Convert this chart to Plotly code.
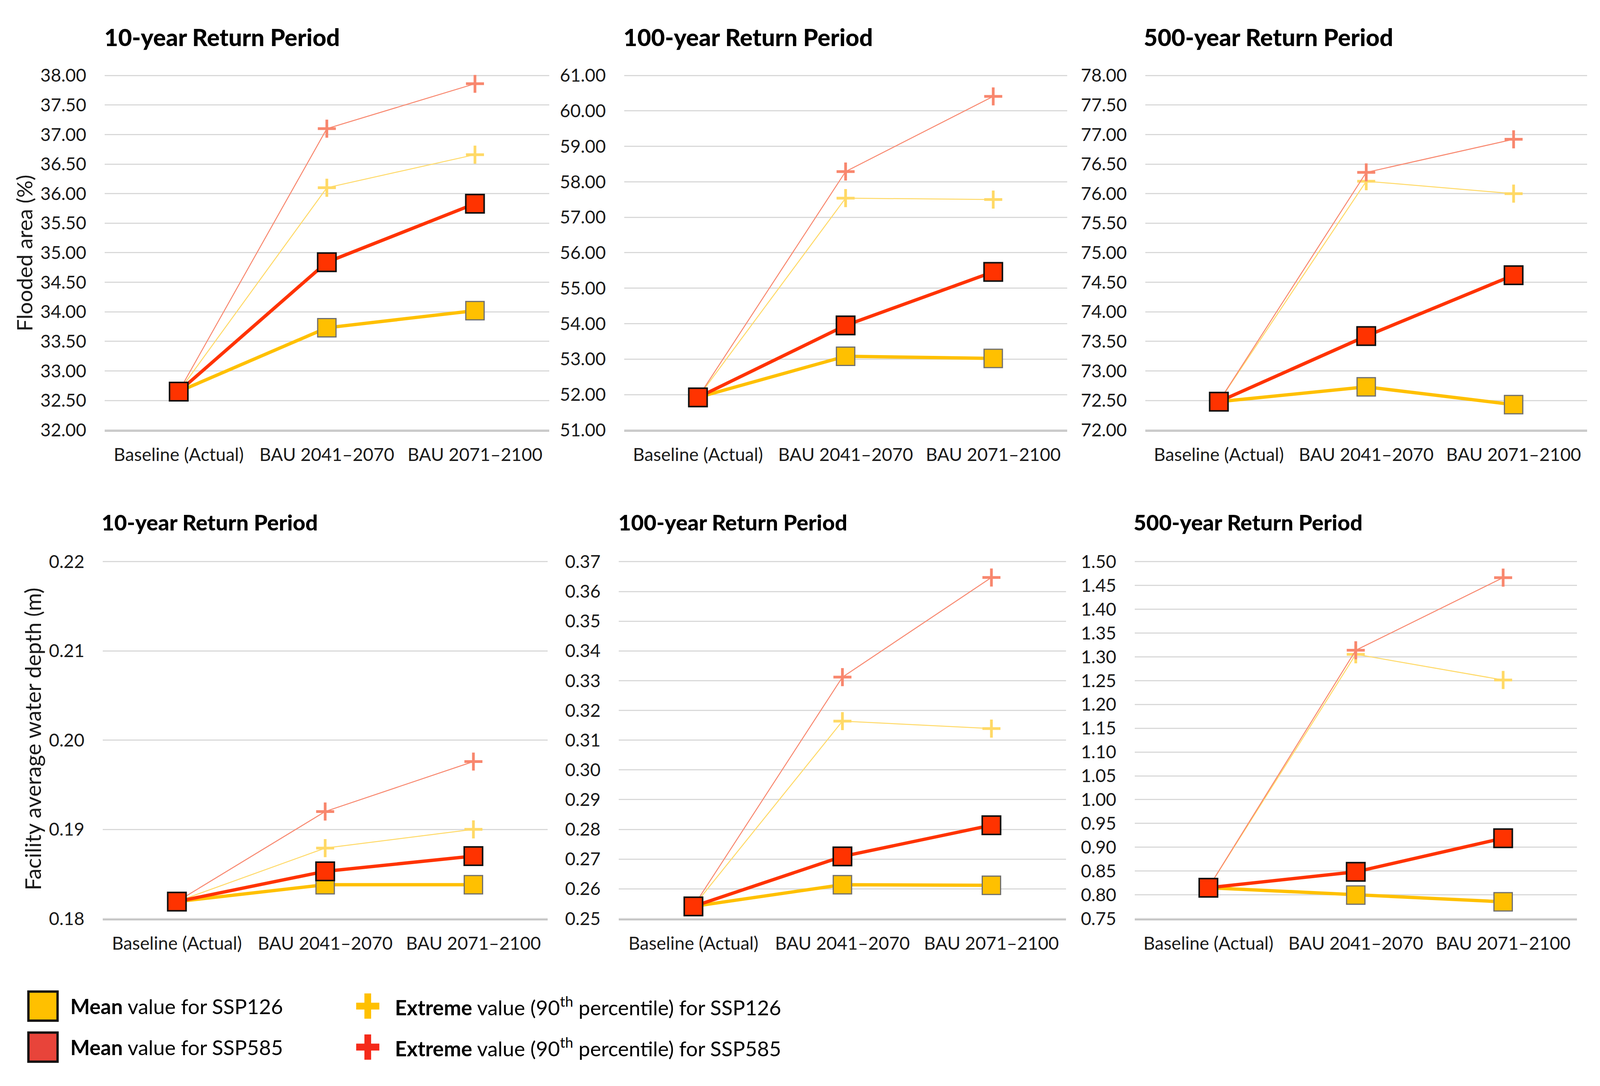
import plotly.graph_objects as go

W, H = 4281, 2780

categories = ["Baseline (Actual)", "BAU 2041–2070", "BAU 2071–2100"]

panel_titles = ["10-year Return Period", "100-year Return Period", "500-year Return Period"]

# Flooded area (%)
area_mean_126 = [[32.65, 33.73, 34.02], [51.92, 53.08, 53.02], [72.48, 72.73, 72.43]]
area_mean_585 = [[32.65, 34.84, 35.83], [51.92, 53.95, 55.46], [72.48, 73.59, 74.62]]
area_ext_126 = [[32.65, 36.10, 36.66], [51.92, 57.54, 57.50], [72.48, 76.21, 76.00]]
area_ext_585 = [[32.65, 37.10, 37.86], [51.92, 58.29, 60.41], [72.48, 76.36, 76.92]]

# Facility average water depth (m)
depth_mean_126 = [[0.1819, 0.1838, 0.1838], [0.2541, 0.2614, 0.2612], [0.8149, 0.7995, 0.7853]]
depth_mean_585 = [[0.1819, 0.1853, 0.1870], [0.2541, 0.2709, 0.2814], [0.8149, 0.8482, 0.9189]]
depth_ext_126 = [[0.1819, 0.1879, 0.1900], [0.2541, 0.3164, 0.3139], [0.8149, 1.3055, 1.2515]]
depth_ext_585 = [[0.1819, 0.1920, 0.1976], [0.2541, 0.3312, 0.3647], [0.8149, 1.3140, 1.4666]]

area_ranges = [[32.0, 38.0, 0.5], [51.0, 61.0, 1.0], [72.0, 78.0, 0.5]]
depth_ranges = [[0.18, 0.22, 0.01], [0.25, 0.37, 0.01], [0.75, 1.50, 0.05]]

area_ylabel = "Flooded area (%)"
depth_ylabel = "Facility average water depth (m)"

legend_labels = [
    "<b>Mean</b> value for SSP126",
    "<b>Mean</b> value for SSP585",
    "<b>Extreme</b> value (90<sup>th</sup> percentile) for SSP126",
    "<b>Extreme</b> value (90<sup>th</sup> percentile) for SSP585",
]

# ---- layout geometry (pixels of a 4281x2780 design canvas) ----
top_x = [(280, 1469), (1670, 2855), (3064, 4247)]
bot_x = [(275, 1465), (1656, 2852), (3036, 4219)]
top_y = (167, 1095)
bot_y = (1436, 2370)
top_title_x = [277, 1666, 3058]
bot_title_x = [270, 1652, 3031]
top_title_y = 68
bot_title_y = 1334

FONT = "Lato"
TXT = "#1a1a1a"
C126 = "#FFC000"
C585 = "#FF3300"
C126E = "#FFD966"
C585E = "#F8876E"
GRID = "#D9D9D9"


def px(x):
    return x / W


def py(y):
    return 1 - y / H


fig = go.Figure()
layout = dict(
    autosize=True, margin=dict(l=0, r=0, t=0, b=0, pad=0),
    paper_bgcolor="white", plot_bgcolor="white", showlegend=False,
    font=dict(family=FONT, color=TXT, size=46),
)
annotations = []
shapes = []

panels = []
for i in range(3):
    panels.append((top_x[i], top_y, area_ranges[i], area_mean_126[i], area_mean_585[i],
                   area_ext_126[i], area_ext_585[i], panel_titles[i], top_title_x[i], top_title_y, 61))
for i in range(3):
    panels.append((bot_x[i], bot_y, depth_ranges[i], depth_mean_126[i], depth_mean_585[i],
                   depth_ext_126[i], depth_ext_585[i], panel_titles[i], bot_title_x[i], bot_title_y, 56))

for k, (xd, yd, rng, m126, m585, e126, e585, title, tx, ty, tsize) in enumerate(panels):
    n = k + 1
    xa = "x" if n == 1 else f"x{n}"
    ya = "y" if n == 1 else f"y{n}"
    xkey = "xaxis" if n == 1 else f"xaxis{n}"
    ykey = "yaxis" if n == 1 else f"yaxis{n}"
    lo, hi, dt = rng
    eps = (hi - lo) * 0.0015
    layout[xkey] = dict(
        domain=[px(xd[0]), px(xd[1])], anchor=ya, type="category",
        categoryorder="array", categoryarray=categories, range=[-0.5, 2.5],
        showgrid=False, showline=True, linecolor="#BFBFBF", linewidth=3,
        ticks="", ticklabelstandoff=20, tickfont=dict(size=46, family=FONT, color=TXT),
        zeroline=False, fixedrange=True,
    )
    layout[ykey] = dict(
        domain=[py(yd[1]), py(yd[0])], anchor=xa, range=[lo - eps, hi + eps],
        tick0=lo, dtick=dt, tickformat=".2f", showgrid=True, gridcolor=GRID, gridwidth=3,
        showline=False, zeroline=False, ticks="", ticklabelstandoff=46,
        tickfont=dict(size=46, family=FONT, color=TXT), fixedrange=True,
    )
    fig.add_trace(go.Scatter(
        x=categories, y=e126, xaxis=xa, yaxis=ya, mode="lines+markers",
        line=dict(color=C126E, width=2.5),
        marker=dict(symbol="cross-thin", size=33, line=dict(color=C126E, width=7)),
        name="Extreme SSP126",
    ))
    fig.add_trace(go.Scatter(
        x=categories, y=e585, xaxis=xa, yaxis=ya, mode="lines+markers",
        line=dict(color=C585E, width=2.5),
        marker=dict(symbol="cross-thin", size=33, line=dict(color=C585E, width=7)),
        name="Extreme SSP585",
    ))
    fig.add_trace(go.Scatter(
        x=categories, y=m126, xaxis=xa, yaxis=ya, mode="lines+markers",
        line=dict(color=C126, width=8.5),
        marker=dict(symbol="square", size=47, color=C126, line=dict(color="#6F6F6F", width=3)),
        name="Mean SSP126",
    ))
    fig.add_trace(go.Scatter(
        x=categories, y=m585, xaxis=xa, yaxis=ya, mode="lines+markers",
        line=dict(color=C585, width=8.5),
        marker=dict(symbol="square", size=47, color=C585, line=dict(color="#111111", width=4)),
        name="Mean SSP585",
    ))
    annotations.append(dict(
        text=title, x=px(tx), y=py(ty), xref="paper", yref="paper",
        xanchor="left", yanchor="middle", showarrow=False,
        font=dict(size=tsize, family=FONT, color="#000000", weight=900),
    ))

annotations.append(dict(text=area_ylabel, x=px(65), y=py(632), xref="paper", yref="paper",
                        textangle=-90, showarrow=False, xanchor="center", yanchor="middle",
                        font=dict(size=55, family=FONT, color=TXT)))
annotations.append(dict(text=depth_ylabel, x=px(88), y=py(1900), xref="paper", yref="paper",
                        textangle=-90, showarrow=False, xanchor="center", yanchor="middle",
                        font=dict(size=56, family=FONT, color=TXT)))

row_y = [2597, 2704]
sq_colors = ["#FFC000", "#E8443A"]
for r in range(2):
    cy = row_y[r]
    shapes.append(dict(type="rect", xref="paper", yref="paper",
                       x0=px(76), x1=px(154), y0=py(cy + 38), y1=py(cy - 38),
                       fillcolor=sq_colors[r], line=dict(color="#111111", width=6)))
    annotations.append(dict(text=legend_labels[r], x=px(186), y=py(cy), xref="paper", yref="paper",
                            xanchor="left", yanchor="middle", showarrow=False,
                            font=dict(size=53, family=FONT, color="#000000")))
plus_colors = ["#FFC000", "#F52A1A"]
for r in range(2):
    cy = row_y[r]
    cx = 984
    shapes.append(dict(type="rect", xref="paper", yref="paper",
                       x0=px(cx - 9), x1=px(cx + 9), y0=py(cy + 33), y1=py(cy - 33),
                       fillcolor=plus_colors[r], line=dict(width=0)))
    shapes.append(dict(type="rect", xref="paper", yref="paper",
                       x0=px(cx - 31), x1=px(cx + 31), y0=py(cy + 9), y1=py(cy - 9),
                       fillcolor=plus_colors[r], line=dict(width=0)))
    annotations.append(dict(text=legend_labels[2 + r], x=px(1055), y=py(cy), xref="paper", yref="paper",
                            xanchor="left", yanchor="middle", showarrow=False,
                            font=dict(size=53, family=FONT, color="#000000")))

layout["annotations"] = annotations
layout["shapes"] = shapes
fig.update_layout(**layout)

post = (
    "document.documentElement.style.margin='0';"
    "document.documentElement.style.overflow='hidden';"
    "document.body.style.margin='0';"
    "document.body.style.overflow='hidden';"
    "var gd=document.getElementById('{plot_id}');"
    "gd.style.width='100vw';gd.style.height='100vh';"
    "Plotly.Plots.resize(gd);"
)
fig.write_html("out.html", default_width="100vw", default_height="100vh",
               config={"responsive": True, "displayModeBar": False}, post_script=post)
